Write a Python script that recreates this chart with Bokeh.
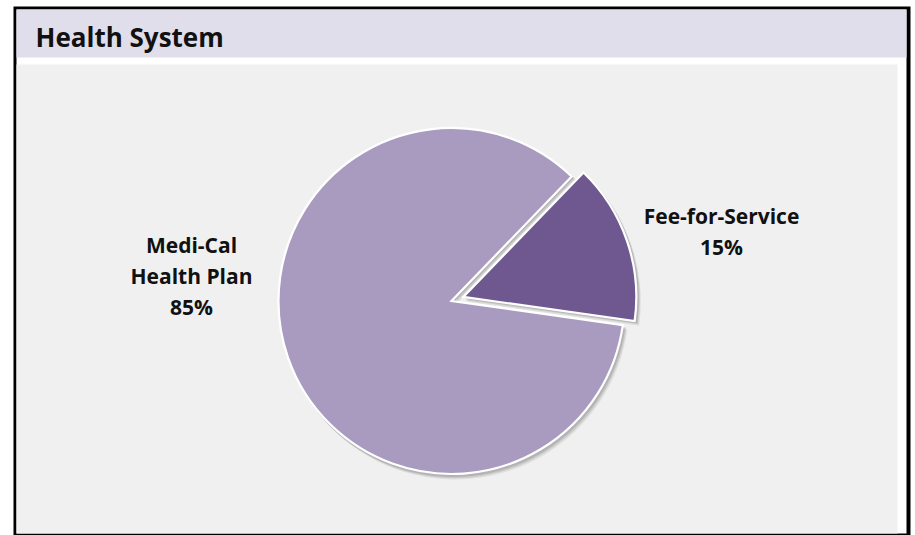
import math
from bokeh.plotting import figure
from bokeh.models import ColumnDataSource, Range1d
from bokeh.core.properties import value
from bokeh.embed import file_html
from bokeh.resources import INLINE

# ---- data ----
title_text = "Health System"
categories = ["Fee-for-Service", "Medi-Cal Health Plan"]
label_lines = [["Fee-for-Service"], ["Medi-Cal", "Health Plan"]]
shares = [15, 85]
slice_colors = ["#6F5890", "#A99BC0"]

# ---- layout (page pixel coordinates; y is flipped so that Y = 535 - page_y) ----
FONT = "Open Sans"
W, H = 915, 535
def Y(py):
    return H - py

start_deg = -8.0          # first slice starts here, anticlockwise
center = (451, 300.5)
radius = 173
explode = [12.5, 0.0]
label_centers = [(721, 230.5), (191, 275)]
line_step = 31

p = figure(width=W, height=H, output_backend="svg", toolbar_location=None,
           x_range=Range1d(0, W), y_range=Range1d(0, H),
           min_border=0, outline_line_color=None,
           background_fill_color="white", border_fill_color="white")
p.axis.visible = False
p.xgrid.visible = False
p.ygrid.visible = False

# frame: black border, white inside, lavender title band, grey plot area
p.quad(left=[13], right=[910], bottom=[Y(535)], top=[Y(6)], fill_color="black", line_color=None)
p.quad(left=[16], right=[906], bottom=[Y(533)], top=[Y(9)], fill_color="white", line_color=None)
p.quad(left=[16], right=[906], bottom=[Y(57)], top=[Y(9)], fill_color="#E1DEEC", line_color=None)
p.quad(left=[16], right=[897], bottom=[Y(533)], top=[Y(64)], fill_color="#F0F0F0", line_color=None)

p.text(x=[35], y=[Y(36)], text=[title_text], text_font=value(FONT), text_font_style="bold",
       text_font_size="26px", text_baseline="middle", text_align="left", text_color="#111111")

# pie geometry from shares
total = float(sum(shares))
starts, ends, xs, ys = [], [], [], []
acc = math.radians(start_deg)
for s, ex in zip(shares, explode):
    a0 = acc
    a1 = acc + 2 * math.pi * s / total
    mid = (a0 + a1) / 2
    starts.append(a0)
    ends.append(a1)
    xs.append(center[0] + ex * math.cos(mid))
    ys.append(Y(center[1]) + ex * math.sin(mid))
    acc = a1

src = ColumnDataSource(dict(x=xs, y=ys, start=starts, end=ends, color=slice_colors,
                            name=categories, share=shares))
# soft shadow
for dx, dy, al in [(3.5, -4.5, 0.10), (2.5, -3.2, 0.14), (1.5, -2.0, 0.18)]:
    sh = ColumnDataSource(dict(x=[v + dx for v in xs], y=[v + dy for v in ys], start=starts, end=ends))
    p.wedge(x="x", y="y", radius=radius + 1, start_angle="start", end_angle="end",
            direction="anticlock", source=sh, fill_color="#505050", fill_alpha=al, line_color=None)
p.wedge(x="x", y="y", radius=radius, start_angle="start", end_angle="end", direction="anticlock",
        source=src, fill_color="color", line_color="white", line_width=2.2, line_join="miter")

# labels
lx, ly, lt = [], [], []
for lines, s, (cx, cy) in zip(label_lines, shares, label_centers):
    allines = lines + ["%d%%" % s]
    n = len(allines)
    for i, t in enumerate(allines):
        lx.append(cx)
        ly.append(Y(cy + (i - (n - 1) / 2) * line_step))
        lt.append(t)
p.text(x=lx, y=ly, text=lt, text_font=value(FONT), text_font_style="bold", text_font_size="21px",
       text_align="center", text_baseline="middle", text_color="#111111")

open("out.html", "w").write(file_html(p, INLINE))
